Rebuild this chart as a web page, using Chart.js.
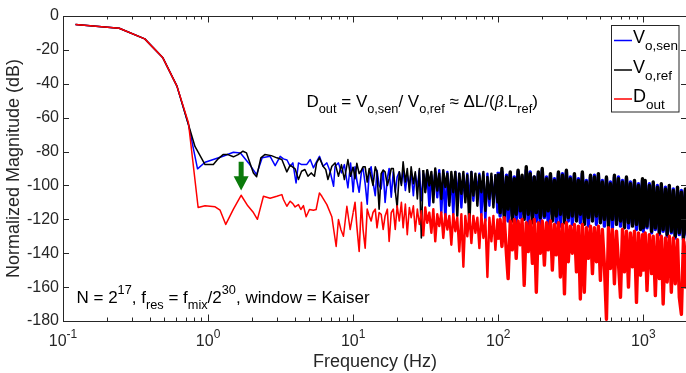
<!DOCTYPE html>
<html>
<head>
<meta charset="utf-8">
<title>Spectrum</title>
<script src="https://cdn.jsdelivr.net/npm/chart.js@4.4.0/dist/chart.umd.min.js"></script>
<style>
  html, body { margin: 0; padding: 0; background: #fff; overflow: hidden; }
  #wrap { width: 690px; height: 373px; }
</style>
</head>
<body>
<div id="wrap"><canvas id="specChart" width="690" height="373"></canvas></div>
<script>
// low frequency part of each trace (Hz / dB)
const redLowFreq = [0.122, 0.244, 0.366, 0.488, 0.61, 0.732, 0.854, 0.953, 1.118, 1.21, 1.324, 1.495, 1.689, 1.878, 2.053, 2.188, 2.407, 2.677, 2.977, 3.224, 3.307, 3.49, 3.68, 3.837, 3.98, 4.197, 4.359, 4.542, 4.741, 4.995, 5.323, 5.556, 5.855, 6.083, 6.588, 7.131, 7.635, 7.918, 8.226, 8.573, 9.05, 9.535];
const redLowDb = [-5, -7.2, -13.5, -24.7, -41.4, -63, -113, -112, -112.6, -114.6, -123, -114, -105.8, -112, -116, -120, -106.4, -107.5, -106.4, -105.4, -108.3, -112.3, -109.3, -110.7, -112.7, -111.3, -114.2, -111.9, -118.5, -114.2, -114.6, -114.2, -104.4, -106.4, -111.3, -118.5, -136, -120.1, -126, -130, -112.3, -126];

const blackLowFreq = [0.122, 0.244, 0.366, 0.488, 0.61, 0.732, 0.812, 0.953, 1.087, 1.173, 1.268, 1.37, 1.495, 1.61, 1.74, 1.84, 2.053, 2.16, 2.31, 2.46, 2.73, 2.977, 3.224, 3.49, 3.68, 3.98, 4.197, 4.41, 4.65, 4.88, 5.14, 5.41, 5.6, 5.85, 6.2, 6.47, 6.7, 7.13, 7.5, 7.92, 8.3, 8.7, 9.2, 9.6];
const blackLowDb = [-5, -7.2, -13.5, -24.7, -41.4, -64, -77, -87.7, -87.7, -84.3, -81.8, -81.8, -83.1, -81.8, -79.8, -80.8, -92.6, -94.9, -83.7, -81.8, -82.4, -83.7, -84.7, -92, -88, -90.2, -96.5, -91.6, -90.6, -94.6, -92.6, -94.6, -86.7, -83.7, -88.7, -90.6, -96.5, -88.7, -86.7, -94.6, -87.7, -96.5, -84.7, -94.6];

const blueLowFreq = [0.122, 0.244, 0.366, 0.488, 0.61, 0.732, 0.846, 0.953, 1.087, 1.268, 1.495, 1.67, 1.9, 2.16, 2.36, 2.677, 2.9, 3.14, 3.307, 3.5, 3.68, 3.84, 4.04, 4.2, 4.41, 4.78, 5.06, 5.32, 5.62, 5.86, 6.2, 6.59, 6.93, 7.33, 7.5, 7.92, 8.3, 8.7, 9.2, 9.6];
const blueLowDb = [-5, -7.2, -13.5, -24.7, -41.4, -64, -90.2, -86.3, -84.7, -82.8, -80.4, -80.8, -86.7, -93.6, -83.7, -82.8, -88.3, -82.8, -84.3, -85, -88.7, -86.7, -98.5, -86.7, -87.7, -87.7, -84.7, -89.6, -85.7, -82.8, -88.7, -86.7, -91.6, -100.5, -88.7, -86.7, -92.6, -87.7, -101.4, -86.7];

// noisy part above 10 Hz, shared frequency grid
const noiseFreq = [
  10, 10.3, 10.6, 11, 11.4, 11.7, 12.1, 12.5, 12.9, 13.3, 13.7, 14.2, 14.6, 15.1, 15.6, 16.1, 16.6, 17.2, 17.7, 18.3,
  18.9, 19.5, 20.1, 20.8, 21.5, 22.1, 22.9, 23.6, 24.4, 25.1, 26, 26.8, 27.7, 28.6, 29.5, 30.4, 31.4, 32.4, 33.5, 34.6,
  35.7, 36.8, 38, 39.2, 40.5, 41.8, 43.2, 44.6, 46, 47.5, 49, 50.6, 52.2, 53.9, 55.7, 57.5, 59.3, 61.2, 63.2, 65.3,
  67.4, 69.6, 71.8, 74.1, 76.5, 79, 81.5, 84.2, 86.9, 89.7, 92.6, 95.6, 98.7,
  100, 103, 106, 110, 114, 117, 121, 125, 129, 133, 137, 142, 146, 151, 156, 161, 166, 172, 177, 183,
  189, 195, 201, 208, 215, 221, 229, 236, 244, 251, 260, 268, 277, 286, 295, 304, 314, 324, 335, 346,
  357, 368, 380, 392, 405, 418, 432, 446, 460, 475, 490, 506, 522, 539, 557, 575, 593, 612, 632, 653,
  674, 696, 718, 741, 765, 790, 815, 842, 869, 897, 926, 956, 987,
  1000, 1030, 1060, 1100, 1140, 1170, 1210, 1250, 1290, 1330, 1370, 1420, 1460, 1510, 1560, 1610, 1660, 1720, 1770, 1830,
  1890, 1950, 2010
];
const blueNoiseDb = [
  -104, -89, -97, -104, -92, -90, -99, -111, -92, -89, -98, -106, -91, -100, -102, -91, -110, -96, -90, -107,
  -92, -104, -95, -92, -99, -91, -103, -94, -100, -92, -106, -93, -101, -91, -109, -93, -102, -92, -112, -94,
  -105, -92, -107, -91, -116, -93, -120, -92, -110, -94, -117, -92, -108, -93, -113, -94, -106, -93, -111, -92,
  -109, -95, -104, -93, -118, -94, -121, -93, -112, -95, -110, -94, -116,
  -92, -118, -92, -117, -94, -121, -93, -118, -95, -122, -92, -119, -95, -117, -91, -123, -92, -118, -95, -121,
  -93, -124, -91, -119, -95, -123, -94, -117, -96, -122, -93, -124, -93, -118, -92, -121, -95, -123, -94, -119,
  -96, -122, -93, -120, -97, -124, -95, -119, -94, -123, -94, -120, -97, -124, -96, -121, -98, -125, -95, -121,
  -95, -124, -97, -122, -96, -125, -98, -123, -98, -126, -99, -124, -97,
  -127, -98, -125, -99, -128, -100, -126, -100, -129, -101, -127, -101, -130, -102, -128, -102, -131, -103, -129, -103,
  -132, -103, -130
];
const blackNoiseDb = [
  -89, -96, -87, -93, -91, -89, -89, -98, -90, -95, -100, -89, -92, -114, -93, -91, -92, -100, -96, -90,
  -90, -103, -113, -92, -100, -86, -98, -90, -104, -89, -99, -92, -108, -90, -131, -91, -104, -91, -100, -92,
  -110, -90, -103, -93, -108, -91, -101, -93, -112, -92, -104, -92, -118, -93, -105, -92, -110, -94, -124, -92,
  -106, -93, -112, -94, -104, -92, -115, -95, -108, -93, -113, -94, -110,
  -93, -116, -90, -119, -95, -114, -92, -121, -96, -117, -91, -115, -94, -120, -89, -117, -93, -122, -95, -116,
  -92, -119, -90, -118, -96, -115, -93, -121, -97, -118, -92, -117, -94, -122, -91, -119, -96, -118, -93, -121,
  -97, -117, -92, -123, -98, -119, -94, -121, -95, -118, -93, -122, -98, -120, -95, -124, -99, -120, -94, -123,
  -96, -121, -98, -125, -95, -122, -99, -124, -97, -123, -100, -126, -96,
  -125, -97, -124, -100, -127, -98, -125, -101, -128, -99, -126, -102, -129, -100, -127, -103, -130, -101, -128, -104,
  -131, -102, -129
];
const redNoiseDb = [
  -116, -110, -124, -139, -110, -126, -137, -114, -118, -121, -116, -114, -125, -116, -117, -126, -118, -114, -133, -116,
  -114, -126, -112, -121, -110, -125, -111, -129, -113, -119, -112, -127, -114, -123, -115, -130, -113, -122, -116, -128,
  -114, -133, -117, -124, -116, -131, -117, -126, -118, -135, -117, -127, -119, -139, -117, -148, -118, -130, -117, -134,
  -118, -128, -119, -137, -117, -131, -120, -154, -119, -133, -118, -138, -120,
  -132, -120, -136, -119, -141, -155, -121, -138, -120, -143, -121, -135, -120, -159, -122, -139, -121, -146, -120, -163,
  -122, -140, -121, -147, -122, -138, -121, -150, -123, -141, -122, -154, -123, -164, -122, -145, -124, -140, -123, -151,
  -124, -167, -123, -163, -125, -143, -124, -152, -125, -145, -124, -156, -126, -147, -179, -125, -149, -126, -158, -127,
  -146, -166, -126, -151, -127, -160, -128, -148, -127, -169, -128, -153, -129,
  -150, -128, -162, -129, -152, -130, -165, -129, -155, -130, -170, -131, -157, -130, -163, -131, -158, -132, -166, -176,
  -132, -160, -133
];

const xDecades = [0.1, 1, 10, 100, 1000];
const xDecadeExp = ['-1', '0', '1', '2', '3'];

// green arrow pointing at the D_out peak
const arrowFreq = 1.69;
const arrowTopDb = -86;
const arrowHeadDb = -94.5;
const arrowTipDb = -103;

Chart.defaults.font.family = '"Liberation Sans", Arial, sans-serif';
Chart.defaults.color = '#262626';

function toPoints(freqs, dbs) {
    return freqs.map((f, i) => ({ x: f, y: dbs[i] }));
}

// the dense part of the spectrum is drawn heavier so it reads as a solid band
function noiseWidth(c) {
    const f = c.p0.parsed.x;
    if (f < 10) return 1.5;
    if (f < 30) return 1.6;
    if (f < 100) return 2.4;
    return 3.4;
}

// draws text made of normal / sub / sup / italic pieces
function richText(ctx, x, y, parts, size, align) {
    const small = size * 0.75;
    const fontFor = k => {
        if (k === 'it') return 'italic ' + size + 'px "Liberation Serif"';
        return ((k === 'sub' || k === 'sup') ? small : size) + 'px "Liberation Sans"';
    };
    let w = 0;
    parts.forEach(([t, k]) => { ctx.font = fontFor(k); w += ctx.measureText(t).width; });
    let cx = align === 'center' ? x - w / 2 : x;
    ctx.textAlign = 'left';
    ctx.textBaseline = 'alphabetic';
    parts.forEach(([t, k]) => {
        ctx.font = fontFor(k);
        let dy = 0;
        if (k === 'sub') dy = size * 0.4;
        if (k === 'sup') dy = -size * 0.5;
        ctx.fillText(t, cx, y + dy);
        cx += ctx.measureText(t).width;
    });
}

const legendItems = [
    { color: '#0000ff', parts: [['V', ''], ['o,sen', 'sub']] },
    { color: '#000000', parts: [['V', ''], ['o,ref', 'sub']] },
    { color: '#ff0000', parts: [['D', ''], ['out', 'sub']] }
];

const matlabFrame = {
    id: 'matlabFrame',
    afterDraw(chart) {
        const ctx = chart.ctx;
        const a = chart.chartArea;
        const xs = chart.scales.x;
        const ys = chart.scales.y;
        ctx.save();

        // box + inward ticks
        ctx.strokeStyle = '#262626';
        ctx.lineWidth = 1;
        ctx.strokeRect(a.left + 0.5, a.top + 0.5, a.right - a.left, a.bottom - a.top);
        ctx.beginPath();
        xDecades.forEach(d => {
            for (let m = 1; m <= 9; m++) {
                const v = d * m;
                if (v < xs.min || v > xs.max) continue;
                const px = Math.round(xs.getPixelForValue(v)) + 0.5;
                const len = m === 1 ? 6.5 : 3.5;
                ctx.moveTo(px, a.bottom); ctx.lineTo(px, a.bottom - len);
                ctx.moveTo(px, a.top); ctx.lineTo(px, a.top + len);
            }
        });
        ys.ticks.forEach(t => {
            const py = Math.round(ys.getPixelForValue(t.value)) + 0.5;
            ctx.moveTo(a.left, py); ctx.lineTo(a.left + 6, py);
            ctx.moveTo(a.right, py); ctx.lineTo(a.right - 6, py);
        });
        ctx.stroke();

        // x tick labels 10^n
        ctx.fillStyle = '#262626';
        xDecades.forEach((d, i) => {
            const px = xs.getPixelForValue(d);
            richText(ctx, px, 346, [['10', ''], [xDecadeExp[i], 'sup']], 16, 'center');
        });

        // axis titles
        ctx.font = '18px "Liberation Sans"';
        ctx.textAlign = 'center';
        ctx.textBaseline = 'alphabetic';
        ctx.fillText('Frequency (Hz)', (a.left + a.right) / 2, 367);
        ctx.save();
        ctx.translate(19, (a.top + a.bottom) / 2);
        ctx.rotate(-Math.PI / 2);
        ctx.fillText('Normalized Magnitude (dB)', 0, 0);
        ctx.restore();

        // annotations
        ctx.fillStyle = '#000';
        richText(ctx, 306.5, 106.5, [
            ['D', ''], ['out', 'sub'], [' = V', ''], ['o,sen', 'sub'], ['/ V', ''], ['o,ref', 'sub'],
            [' \u2248 \u0394L/(', ''], ['\u03b2', 'it'], ['.L', ''], ['ref', 'sub'], [')', '']
        ], 17);
        richText(ctx, 76.5, 302.5, [
            ['N = 2', ''], ['17', 'sup'], [', f', ''], ['res', 'sub'], [' = f', ''], ['mix', 'sub'],
            ['/2', ''], ['30', 'sup'], [', window = Kaiser', '']
        ], 17);

        // green arrow
        const ax = xs.getPixelForValue(arrowFreq);
        const aTop = ys.getPixelForValue(arrowTopDb);
        const aHead = ys.getPixelForValue(arrowHeadDb);
        const aTip = ys.getPixelForValue(arrowTipDb);
        ctx.fillStyle = '#0b7a0b';
        ctx.beginPath();
        ctx.moveTo(ax - 2.5, aTop);
        ctx.lineTo(ax + 2.5, aTop);
        ctx.lineTo(ax + 2.5, aHead);
        ctx.lineTo(ax + 7.5, aHead);
        ctx.lineTo(ax, aTip);
        ctx.lineTo(ax - 7.5, aHead);
        ctx.lineTo(ax - 2.5, aHead);
        ctx.closePath();
        ctx.fill();

        // legend box
        ctx.fillStyle = '#fff';
        ctx.fillRect(611.5, 25.5, 67.5, 86.5);
        ctx.strokeStyle = '#262626';
        ctx.lineWidth = 1;
        ctx.strokeRect(611.5, 25.5, 67.5, 86.5);
        const rowY = [40.5, 70, 99];
        legendItems.forEach((item, i) => {
            ctx.strokeStyle = item.color;
            ctx.lineWidth = 1.5;
            ctx.beginPath();
            ctx.moveTo(614, rowY[i]);
            ctx.lineTo(632, rowY[i]);
            ctx.stroke();
            ctx.fillStyle = '#000';
            richText(ctx, 633, rowY[i] + 2.7, item.parts, 18);
        });

        ctx.restore();
    }
};

const ctx = document.getElementById('specChart').getContext('2d');

const lineStyle = {
    borderWidth: 1.5,
    borderJoinStyle: 'round',
    pointRadius: 0,
    tension: 0,
    segment: { borderWidth: noiseWidth }
};

new Chart(ctx, {
    type: 'line',
    data: {
        datasets: [
            Object.assign({
                label: 'Vo,sen',
                data: toPoints(blueLowFreq, blueLowDb).concat(toPoints(noiseFreq, blueNoiseDb)),
                borderColor: '#0000ff',
                order: 3
            }, lineStyle),
            Object.assign({
                label: 'Vo,ref',
                data: toPoints(blackLowFreq, blackLowDb).concat(toPoints(noiseFreq, blackNoiseDb)),
                borderColor: '#000000',
                order: 2
            }, lineStyle),
            Object.assign({
                label: 'Dout',
                data: toPoints(redLowFreq, redLowDb).concat(toPoints(noiseFreq, redNoiseDb)),
                borderColor: '#ff0000',
                order: 1
            }, lineStyle)
        ]
    },
    options: {
        responsive: false,
        animation: false,
        events: [],
        clip: 0,
        layout: { padding: { top: 16, right: 3, bottom: 0, left: 0 } },
        plugins: {
            legend: { display: false },
            tooltip: { enabled: false }
        },
        scales: {
            x: {
                type: 'logarithmic',
                min: 0.1,
                max: 2000,
                ticks: { display: false },
                grid: { display: false, drawTicks: false },
                border: { display: false },
                afterFit: scale => { scale.height = 52; }
            },
            y: {
                min: -180,
                max: 0,
                ticks: { stepSize: 20, padding: 4, font: { size: 16 }, color: '#262626' },
                grid: { display: false, drawTicks: false },
                border: { display: false },
                afterFit: scale => { scale.width = 63; }
            }
        }
    },
    plugins: [matlabFrame]
});
</script>
</body>
</html>
